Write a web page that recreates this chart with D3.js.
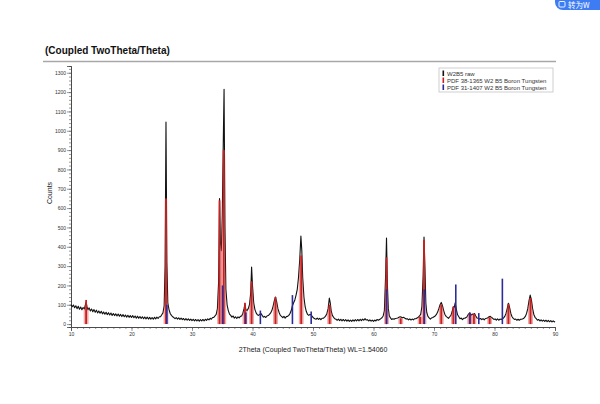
<!DOCTYPE html>
<html><head><meta charset="utf-8">
<script src="https://cdn.jsdelivr.net/npm/d3@7.9.0/dist/d3.min.js"></script>
<style>
body{margin:0;background:#fff}
svg{display:block;font-family:"Liberation Sans",Arial,sans-serif}
</style></head><body>
<svg id="chart" width="600" height="404"></svg>
<script>
// measured W2B5 pattern, [2theta, counts]
const rawPattern = [
  [10.0,102],[10.2,90],[10.4,99],[10.6,85],[10.8,95],[11.0,80],[11.2,92],[11.4,77],[11.6,88],[11.8,74],
  [12.0,86],[12.2,78],[12.35,97],[12.5,114],[12.65,90],[12.8,74],[13.0,84],[13.2,68],[13.4,78],[13.6,64],
  [13.8,75],[14.0,61],[14.2,72],[14.4,58],[14.6,68],[14.8,56],[15.0,66],[15.2,53],[15.4,63],[15.6,51],
  [15.8,61],[16.0,49],[16.2,59],[16.4,47],[16.6,57],[16.8,45],[17.0,55],[17.2,44],[17.4,53],[17.6,42],
  [17.8,52],[18.0,41],[18.2,50],[18.4,39],[18.6,49],[18.8,38],[19.0,47],[19.2,36],[19.4,46],[19.6,35],
  [19.8,44],[20.0,34],[20.2,44],[20.4,33],[20.6,42],[20.8,31],[21.0,41],[21.2,30],[21.4,39],[21.6,29],
  [21.8,38],[22.0,28],[22.2,37],[22.4,27],[22.6,36],[22.8,26],[23.0,35],[23.2,26],[23.4,34],[23.6,25],
  [23.8,35],[24.0,27],[24.2,36],[24.4,29],[24.6,38],[24.8,38],[25.0,48],[25.2,58],[25.4,95],[25.55,300],
  [25.7,1045],[25.85,320],[26.0,110],[26.2,75],[26.4,55],[26.6,45],[26.8,38],[27.0,34],[27.2,28],[27.4,34],
  [27.6,26],[27.8,32],[28.0,24],[28.2,31],[28.4,23],[28.6,29],[28.8,21],[29.0,28],[29.2,20],[29.4,27],
  [29.6,19],[29.8,26],[30.0,18],[30.2,25],[30.4,17],[30.6,24],[30.8,16],[31.0,23],[31.2,15],[31.4,23],
  [31.6,16],[31.8,24],[32.0,17],[32.2,25],[32.4,19],[32.6,27],[32.8,22],[33.0,30],[33.2,25],[33.4,34],
  [33.6,35],[33.8,42],[34.0,50],[34.2,80],[34.4,220],[34.55,650],[34.7,420],[34.85,380],[35.0,560],[35.15,900],
  [35.3,1215],[35.45,500],[35.6,180],[35.8,100],[36.0,70],[36.2,52],[36.4,45],[36.6,36],[36.8,42],[37.0,31],
  [37.2,38],[37.4,29],[37.6,37],[37.8,32],[38.0,40],[38.2,42],[38.4,55],[38.6,80],[38.75,105],[38.9,75],
  [39.1,70],[39.3,80],[39.5,100],[39.7,160],[39.85,295],[40.0,200],[40.2,110],[40.4,75],[40.6,58],[40.8,48],
  [41.0,45],[41.2,50],[41.4,55],[41.6,45],[41.8,36],[42.0,40],[42.2,34],[42.4,42],[42.6,44],[42.8,50],
  [43.0,58],[43.2,70],[43.4,92],[43.6,120],[43.8,140],[44.0,115],[44.2,80],[44.4,60],[44.6,45],[44.8,40],
  [45.0,33],[45.2,40],[45.4,31],[45.6,39],[45.8,40],[46.0,45],[46.2,55],[46.4,70],[46.6,95],[46.8,110],
  [47.0,125],[47.2,150],[47.4,180],[47.6,240],[47.8,330],[48.0,455],[48.15,380],[48.3,240],[48.5,140],[48.7,90],
  [48.9,65],[49.1,50],[49.3,45],[49.5,50],[49.7,48],[49.9,38],[50.1,32],[50.3,28],[50.5,25],[50.7,31],
  [50.9,24],[51.1,30],[51.3,23],[51.5,30],[51.7,30],[51.9,35],[52.1,42],[52.3,55],[52.5,80],[52.7,135],
  [52.85,110],[53.0,70],[53.2,45],[53.4,35],[53.6,28],[53.8,25],[54.0,20],[54.2,26],[54.4,18],[54.6,25],
  [54.8,17],[55.0,24],[55.2,16],[55.4,23],[55.6,15],[55.8,22],[56.0,14],[56.2,21],[56.4,14],[56.6,22],
  [56.8,15],[57.0,23],[57.2,16],[57.4,24],[57.6,17],[57.8,25],[58.0,18],[58.2,26],[58.4,20],[58.6,28],
  [58.8,21],[59.0,23],[59.2,16],[59.4,22],[59.6,15],[59.8,21],[60.0,14],[60.2,21],[60.4,16],[60.6,24],
  [60.8,20],[61.0,24],[61.2,28],[61.4,33],[61.6,42],[61.8,70],[62.0,250],[62.15,445],[62.3,200],[62.45,80],
  [62.6,45],[62.8,32],[63.0,24],[63.2,28],[63.4,25],[63.6,29],[63.8,30],[64.0,32],[64.2,35],[64.4,38],
  [64.6,36],[64.8,33],[65.0,35],[65.2,30],[65.4,26],[65.6,28],[65.8,22],[66.0,27],[66.2,21],[66.4,26],
  [66.6,22],[66.8,28],[67.0,28],[67.2,32],[67.4,35],[67.6,42],[67.8,50],[68.0,90],[68.2,250],[68.35,450],
  [68.5,300],[68.65,110],[68.8,60],[69.0,40],[69.2,32],[69.4,26],[69.6,32],[69.8,34],[70.0,38],[70.2,42],
  [70.4,50],[70.6,62],[70.8,80],[71.0,100],[71.2,112],[71.4,95],[71.6,70],[71.8,50],[72.0,40],[72.2,35],
  [72.4,30],[72.6,38],[72.8,45],[73.0,65],[73.2,90],[73.35,85],[73.5,110],[73.7,75],[73.9,48],[74.1,38],
  [74.3,28],[74.5,31],[74.7,23],[74.9,30],[75.1,30],[75.3,34],[75.5,40],[75.7,52],[75.9,58],[76.1,45],
  [76.3,52],[76.5,48],[76.7,55],[76.9,42],[77.1,32],[77.3,30],[77.5,26],[77.7,29],[77.9,23],[78.1,28],
  [78.3,22],[78.5,29],[78.7,30],[78.9,33],[79.1,38],[79.3,40],[79.5,35],[79.7,30],[79.9,24],[80.1,27],
  [80.3,20],[80.5,27],[80.7,20],[80.9,26],[81.1,24],[81.3,28],[81.5,32],[81.7,40],[81.9,55],[82.1,80],
  [82.3,108],[82.5,85],[82.7,55],[82.9,38],[83.1,30],[83.3,24],[83.5,26],[83.7,20],[83.9,25],[84.1,20],
  [84.3,25],[84.5,25],[84.7,28],[84.9,32],[85.1,40],[85.3,55],[85.5,80],[85.7,120],[85.9,150],[86.1,125],
  [86.3,80],[86.5,50],[86.7,35],[86.9,28],[87.1,20],[87.3,24],[87.5,16],[87.7,22],[87.9,15],[88.1,21],
  [88.3,14],[88.5,20],[88.7,13],[88.9,19],[89.1,12],[89.3,18],[89.5,11],[89.7,17],[89.9,11],[90.0,14]
];

// PDF 38-1365 W2 B5 reference sticks
const pdf38Theta  = [12.5, 25.7, 34.55, 35.25, 38.75, 39.85, 43.8, 48.05, 52.75, 62.15, 64.5, 67.7, 68.35, 71.2, 73.2, 75.9, 76.6, 79.2, 82.3, 85.95];
const pdf38Counts = [125, 650, 640, 900, 110, 220, 140, 355, 100, 345, 30, 38, 435, 100, 90, 55, 55, 35, 105, 135];

// PDF 31-1407 W2 B5 reference sticks
const pdf31Theta  = [25.85, 35.05, 38.9, 41.3, 46.6, 49.7, 62.15, 68.4, 73.6, 75.95, 77.4, 81.3];
const pdf31Counts = [100, 200, 60, 70, 150, 65, 180, 180, 205, 60, 57, 235];

const xTickValues = [10, 20, 30, 40, 50, 60, 70, 80, 90];
const yTickValues = [0, 100, 200, 300, 400, 500, 600, 700, 800, 900, 1000, 1100, 1200, 1300];
const legendLabels = ['W2B5 raw', 'PDF 38-1365 W2 B5 Boron Tungsten', 'PDF 31-1407 W2 B5 Boron Tungsten'];
const legendColors = ['#111', '#cc2020', '#2b2b9c'];

const svg = d3.select('#chart');
svg.append('rect').attr('width', 600).attr('height', 404).attr('fill', '#fff');

const x = d3.scaleLinear().domain([10, 90]).range([71, 555]);
const y = d3.scaleLinear().domain([-15, 1335]).range([327, 66]);

// title + rule
svg.append('text').attr('x', 45).attr('y', 54)
   .attr('font-size', 10).attr('font-weight', 'bold').attr('fill', '#111')
   .text('(Coupled TwoTheta/Theta)');
svg.append('line').attr('x1', 43).attr('x2', 556).attr('y1', 61.5).attr('y2', 61.5)
   .attr('stroke', '#a8a8a8').attr('stroke-width', 1.5);

// axes
const yMinor = svg.append('g').attr('transform', 'translate(71,0)')
   .call(d3.axisLeft(y).tickValues(d3.range(0, 1321, 20)).tickSize(2).tickFormat(''));
const yAxis = svg.append('g').attr('transform', 'translate(71,0)')
   .call(d3.axisLeft(y).tickValues(yTickValues).tickSize(4).tickPadding(1).tickFormat(d3.format('d')));
const xMinor = svg.append('g').attr('transform', 'translate(0,327)')
   .call(d3.axisBottom(x).tickValues(d3.range(10, 91, 1)).tickSize(2).tickFormat(''));
const xAxis = svg.append('g').attr('transform', 'translate(0,327)')
   .call(d3.axisBottom(x).tickValues(xTickValues).tickSize(4).tickPadding(1));
[yMinor, yAxis, xMinor, xAxis].forEach(g => {
  g.selectAll('path').attr('stroke', '#444').attr('stroke-width', 0.8);
  g.selectAll('line').attr('stroke', '#555').attr('stroke-width', 0.6);
  g.selectAll('text').attr('font-size', 5).attr('fill', '#333')
   .attr('font-family', '"Liberation Sans",Arial,sans-serif');
});

svg.append('text').attr('transform', 'translate(52,193) rotate(-90)')
   .attr('text-anchor', 'middle').attr('font-size', 7).attr('fill', '#222').text('Counts');
svg.append('text').attr('x', 313).attr('y', 352)
   .attr('text-anchor', 'middle').attr('font-size', 7).attr('fill', '#222')
   .text('2Theta (Coupled TwoTheta/Theta) WL=1.54060');

// raw pattern
const line = d3.line().x(d => x(d[0])).y(d => y(d[1]));
const area = d3.area().x(d => x(d[0])).y0(y(0)).y1(d => y(d[1]));
svg.append('path').datum(rawPattern).attr('d', line)
   .attr('fill', 'none').attr('stroke', '#111').attr('stroke-width', 1.1)
   .attr('stroke-linejoin', 'round');

// red reference: shaded peak under the raw curve + stick
const defs = svg.append('defs');
pdf38Theta.forEach((t, i) => {
  defs.append('clipPath').attr('id', 'rc' + i).append('rect')
      .attr('x', x(t - 0.4)).attr('width', x(t + 0.4) - x(t - 0.4))
      .attr('y', y(pdf38Counts[i])).attr('height', y(0) - y(pdf38Counts[i]));
  svg.append('path').datum(rawPattern).attr('d', area)
     .attr('clip-path', `url(#rc${i})`)
     .attr('fill', 'rgba(215,70,70,0.45)');
});
svg.append('g').selectAll('line').data(pdf38Theta).join('line')
   .attr('x1', d => x(d)).attr('x2', d => x(d))
   .attr('y1', y(0)).attr('y2', (d, i) => y(pdf38Counts[i]))
   .attr('stroke', legendColors[1]).attr('stroke-width', 1.8);

svg.append('g').selectAll('line').data(pdf31Theta).join('line')
   .attr('x1', d => x(d)).attr('x2', d => x(d))
   .attr('y1', y(0)).attr('y2', (d, i) => y(pdf31Counts[i]))
   .attr('stroke', legendColors[2]).attr('stroke-width', 1.6);

// legend
const legend = svg.append('g').attr('transform', 'translate(439,68)');
legend.append('rect').attr('width', 114).attr('height', 24)
   .attr('fill', '#fff').attr('stroke', '#c4c4c4').attr('stroke-width', 0.8);
legendLabels.forEach((lab, i) => {
  legend.append('rect').attr('x', 3.5).attr('y', 2.5 + i * 7).attr('width', 1.6).attr('height', 5.5)
     .attr('fill', legendColors[i]);
  legend.append('text').attr('x', 8).attr('y', 7.5 + i * 7)
     .attr('font-size', 6).attr('fill', '#333').text(lab);
});

// screenshot badge in the corner (only its visible part)
const badge = svg.append('g');
badge.append('rect').attr('x', 555).attr('y', -10).attr('width', 70).attr('height', 20).attr('rx', 8)
   .attr('fill', '#3d7cf2');
badge.append('rect').attr('x', 559).attr('y', 1.5).attr('width', 6).attr('height', 5.5).attr('rx', 1)
   .attr('fill', 'none').attr('stroke', '#fff').attr('stroke-width', 0.9);
badge.append('text').attr('x', 568).attr('y', 8.3).attr('font-size', 7.5).attr('fill', '#fff')
   .attr('font-family', '"Noto Sans CJK SC",sans-serif').text('转为W');
</script>
</body></html>
